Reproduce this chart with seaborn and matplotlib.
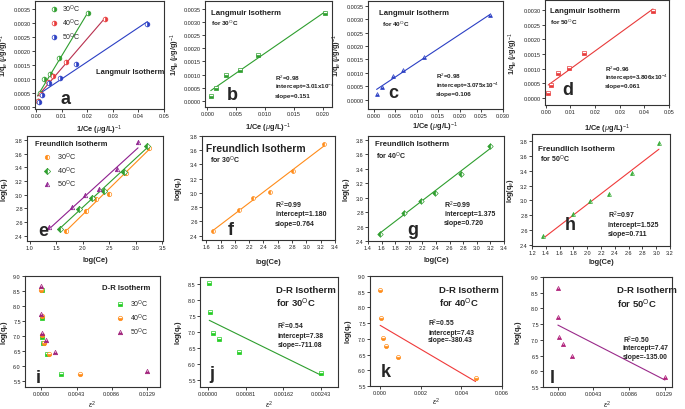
import numpy as np
import pandas as pd
import seaborn as sns
import matplotlib.pyplot as plt

sns.set_theme(style="ticks")
plt.rcParams['font.family'] = ['Liberation Sans', 'DejaVu Sans']
plt.rcParams['mathtext.fontset'] = 'custom'
plt.rcParams['mathtext.rm'] = 'Liberation Sans'
plt.rcParams['mathtext.bf'] = 'Liberation Sans:bold'
plt.rcParams['mathtext.it'] = 'Liberation Sans:italic'

# ---- Langmuir data (1/Ce vs 1/qe) ----
lang_x_30 = [0.0006, 0.0015, 0.0032, 0.0056, 0.0088, 0.0204]
lang_y_30 = [0.00020, 0.00050, 0.00098, 0.00118, 0.00173, 0.00333]
lang_x_40 = [0.0007, 0.0019, 0.0045, 0.0068, 0.0118, 0.0271]
lang_y_40 = [0.00020, 0.00046, 0.00088, 0.00110, 0.00160, 0.00314]
lang_x_50 = [0.0010, 0.0022, 0.0049, 0.0094, 0.0157, 0.0435]
lang_y_50 = [0.00017, 0.00043, 0.00084, 0.00103, 0.00153, 0.00295]
lang_r2 = ["0.98", "0.98", "0.96"]
lang_icpt = [3.01e-4, 3.075e-4, 3.806e-4]
lang_icpt_txt = ["3.01", "3.075", "3.806"]
lang_slope = [0.151, 0.106, 0.061]

# ---- Freundlich data (log Ce vs log qe) ----
freu_x_30 = [1.69, 2.06, 2.25, 2.49, 2.81, 3.24]
freu_y_30 = [2.47, 2.76, 2.93, 3.01, 3.31, 3.69]
freu_x_40 = [1.57, 1.93, 2.18, 2.39, 2.77, 3.20]
freu_y_40 = [2.50, 2.79, 2.95, 3.06, 3.33, 3.71]
freu_x_50 = [1.36, 1.80, 2.04, 2.31, 2.65, 3.04]
freu_y_50 = [2.53, 2.82, 2.99, 3.08, 3.37, 3.77]
freu_r2 = ["0.99", "0.99", "0.97"]
freu_icpt = [1.180, 1.375, 1.525]
freu_slope = [0.764, 0.720, 0.711]

# ---- D-R data (eps^2 vs log qe) ----
dr_x_30 = [0.00002, 0.00004, 0.00010, 0.00022, 0.00067, 0.00243]
dr_y_30 = [8.52, 7.61, 6.96, 6.77, 6.39, 5.72]
dr_x_40 = [0.00000, 0.00005, 0.00012, 0.00030, 0.00089, 0.00470]
dr_y_40 = [8.55, 7.66, 7.02, 6.78, 6.41, 5.74]
dr_x_50 = [0.00000, 0.00000, 0.00012, 0.00060, 0.00170, 0.01294]
dr_y_50 = [8.66, 7.74, 7.10, 6.87, 6.48, 5.82]
dr_r2 = ["0.54", "0.55", "0.50"]
dr_icpt = [7.38, 7.43, 7.47]
dr_slope = [-711.08, -380.43, -135.00]

temps = ["30", "40", "50"]

W, H = 685, 410
fig = plt.figure(figsize=(W / 100, H / 100), dpi=100)


def box(x0, y0, x1, y1):
    return fig.add_axes([x0 / W, 1 - y1 / H, (x1 - x0) / W, (y1 - y0) / H])


def style(ax, xlim, ylim, xticks, yticks, xfmt, yfmt, xlabel, ylabel, xl_y, yl_x):
    ax.set_xlim(*xlim)
    ax.set_ylim(*ylim)
    ax.set_xticks(xticks)
    ax.set_yticks(yticks)
    ax.set_xticklabels([xfmt % v for v in xticks])
    ax.set_yticklabels([yfmt % v for v in yticks])
    ax.tick_params(labelsize=4.0, length=2, width=0.6, pad=1.0, colors='#222222')
    for s in ax.spines.values():
        s.set_linewidth(0.8)
        s.set_color('#333333')
        s.set_visible(True)
    ax.set_xlabel(xlabel, fontsize=5.4, fontweight='bold')
    ax.set_ylabel(ylabel, fontsize=5.2, fontweight='bold')
    # label centres given in figure pixels
    bb = ax.get_position()
    ax.xaxis.set_label_coords(bb.x0 + bb.width / 2, 1 - (xl_y - 3.5) / H,
                              transform=fig.transFigure)
    ax.yaxis.set_label_coords((yl_x + 3.5) / W, bb.y0 + bb.height / 2,
                              transform=fig.transFigure)


def dots(ax, x, y, color, marker, label=None, ms=3.2, fill='right'):
    sns.lineplot(x=x, y=y, ax=ax, color=color, marker=marker, linestyle='none',
                 markersize=ms, fillstyle=fill, markerfacecoloralt='white',
                 markeredgewidth=0.5, markeredgecolor=color,
                 estimator=None, sort=False, label=label)


def fit(ax, x, icpt, slope, color):
    xs = np.array([min(x), max(x)])
    sns.lineplot(x=xs, y=icpt + slope * xs, ax=ax, color=color, linewidth=0.8,
                 estimator=None)


def letter(ax, s, fx, fy):
    ax.text(fx, fy, s, transform=ax.transAxes, fontsize=13, fontweight='bold',
            va='center', ha='left')


def stats(ax, fx, fys, r2, icpt, slope, size=5.0):
    lines = [f"R$^2$={r2}", f"intercept={icpt}", f"slope={slope}"]
    for fy, t in zip(fys, lines):
        ax.text(fx, fy, t, transform=ax.transAxes, fontsize=size,
                fontweight='bold', va='center', ha='left', color='#222222')


def head(ax, title, sub, fx, fy, fy2, size, subsize, subx=None):
    ax.text(fx, fy, title, transform=ax.transAxes, fontsize=size,
            fontweight='bold', va='center', ha='left', color='#222222')
    ax.text(fx if subx is None else subx, fy2, sub, transform=ax.transAxes,
            fontsize=subsize, fontweight='bold', va='center', ha='left',
            color='#222222')


def deg(t):
    return f"{t}$^{{\\rm O}}$C"


lang_lbl_x = r'1/Ce ($\mu$g/L)$^{-1}$'
lang_lbl_y = r'1/q$_e$ ($\mu$g/g)$^{-1}$'
log_lbl_y = r'log(q$_e$)'

# ================= Row 1: Langmuir =================
green, red, blue = '#2e9e2e', '#e83a3a', '#2b3fc4'

ax = box(35, 2, 164, 110)
lang_cols = [green, '#b8304e', blue]
lang_pts = [(lang_x_30, lang_y_30), (lang_x_40, lang_y_40), (lang_x_50, lang_y_50)]
for (xs, ys), c, ic, sl in zip(lang_pts, lang_cols, lang_icpt, lang_slope):
    fit(ax, xs, ic, sl, c)
for (xs, ys), t, pc in zip(lang_pts, temps, [green, red, blue]):
    dots(ax, xs, ys, pc, 'o', label=deg(t), ms=3.4)
style(ax, (-0.0004, 0.05), (-0.00008, 0.00377), np.arange(0, 0.051, 0.01),
      np.arange(0, 0.0036, 0.0005), '%.2f', '%.4f', lang_lbl_x, lang_lbl_y, 127, 7.5)
ax.legend(loc='upper left', bbox_to_anchor=(0.06, 1.02), frameon=False, fontsize=5.0,
          handletextpad=0.2, labelspacing=0.35, borderaxespad=0.2, markerscale=1.0)
ax.text(0.47, 0.35, 'Langmuir Isotherm', transform=ax.transAxes, fontsize=5.4,
        fontweight='bold', va='center', color='#222222')
letter(ax, 'a', 0.2, 0.1)

panels_l = [
    ((205, 2, 332, 108), lang_x_30, lang_y_30, green, green, 's',
     (-0.0004, 0.0216), (-0.00023, 0.00379), np.arange(0, 0.0201, 0.005),
     np.arange(0, 0.0036, 0.0005), '%.3f', 'b', (0.17, 0.12),
     (0.05, 0.89, 0.8, None), (0.55, [0.28, 0.2, 0.11]), (125, 178)),
    ((368, 2, 503, 110), lang_x_40, lang_y_40, blue, blue, '^',
     (-0.0013, 0.0301), (-0.00035, 0.00368), np.arange(0, 0.0301, 0.005),
     np.arange(0, 0.0036, 0.0005), '%.3f', 'c', (0.15, 0.15),
     (0.08, 0.89, 0.79, 0.1), (0.5, [0.31, 0.22, 0.14]), (124, 341)),
    ((545, 1, 669, 106), lang_x_50, lang_y_50, red, red, 's',
     (-0.0003, 0.05), (-0.00024, 0.00334), np.arange(0, 0.051, 0.01),
     np.arange(0, 0.0031, 0.0005), '%.2f', 'd', (0.14, 0.15),
     (0.04, 0.9, 0.8, None), (0.48, [0.35, 0.27, 0.19]), (126, 516)),
]
for i, (pos, xs, ys, lc, pc, mk, xl, yl, xt, yt, xf, let, lp, hd, st, lcs) in enumerate(panels_l):
    ax = box(*pos)
    fit(ax, xs, lang_icpt[i], lang_slope[i], lc)
    dots(ax, xs, ys, pc, mk, ms=2.8, fill='bottom')
    style(ax, xl, yl, xt, yt, xf, '%.4f', lang_lbl_x, lang_lbl_y, *lcs)
    head(ax, 'Langmuir Isotherm', 'for ' + deg(temps[i]), hd[0], hd[1], hd[2], 5.6, 4.6,
         subx=hd[3])
    stats(ax, st[0], st[1], lang_r2[i], f"{lang_icpt_txt[i]}x10$^{{-4}}$", lang_slope[i], 4.5)
    letter(ax, let, *lp)

# ================= Row 2: Freundlich =================
orange, fgreen, purple = '#ff8c1a', '#2e9e2e', '#8e1f8e'
ax = box(27, 137, 163, 242)
freu_pts = [(freu_x_30, freu_y_30), (freu_x_40, freu_y_40), (freu_x_50, freu_y_50)]
freu_cols = [orange, fgreen, purple]
freu_mk = ['o', 'D', '^']
for (xs, ys), c, ic, sl in zip(freu_pts, freu_cols, freu_icpt, freu_slope):
    fit(ax, xs, ic, sl, c)
for (xs, ys), c, t, m in zip(freu_pts, freu_cols, temps, freu_mk):
    dots(ax, xs, ys, c, m, label=deg(t), ms=3.2, fill='left')
style(ax, (0.95, 3.51), (2.32, 3.86), np.arange(1.0, 3.51, 0.5),
      np.arange(2.4, 3.81, 0.2), '%.1f', '%.1f', 'log(Ce)', log_lbl_y, 261, 6.5)
ax.text(0.06, 0.93, 'Freundlich Isotherm', transform=ax.transAxes, fontsize=5.4,
        fontweight='bold', va='center', color='#222222')
ax.legend(loc='upper left', bbox_to_anchor=(0.06, 0.9), frameon=False, fontsize=5.2,
          handletextpad=0.4, labelspacing=0.3, borderaxespad=0.2)
letter(ax, 'e', 0.08, 0.1)

panels_f = [
    ((202, 137, 335, 241), freu_x_30, freu_y_30, orange, orange, 'o',
     (1.54, 3.4), (2.34, 3.78), np.arange(1.6, 3.41, 0.2), 'f', (0.19, 0.1),
     (0.03, 0.88, 0.78, 0.06, 7.4), (0.55, [0.34, 0.25, 0.16]), (262, 180)),
    ((368, 137, 504, 242), freu_x_40, freu_y_40, fgreen, fgreen, 'D',
     (1.4, 3.4), (2.4, 3.85), np.arange(1.4, 3.41, 0.2), 'g', (0.29, 0.11),
     (0.05, 0.93, 0.82, 0.06, 5.6), (0.56, [0.35, 0.26, 0.18]), (261, 348)),
    ((532, 135, 670, 247), freu_x_50, freu_y_50, '#f03a3a', '#2ea82e', '^',
     (1.2, 3.2), (2.39, 3.89), np.arange(1.2, 3.21, 0.2), 'h', (0.24, 0.19),
     (0.04, 0.87, 0.78, 0.06, 5.8), (0.55, [0.28, 0.19, 0.11]), (262, 513)),
]
for i, (pos, xs, ys, lc, pc, mk, xl, yl, xt, let, lp, hd, st, lcs) in enumerate(panels_f):
    ax = box(*pos)
    fit(ax, xs, freu_icpt[i], freu_slope[i], lc)
    dots(ax, xs, ys, pc, mk, ms=2.8, fill='left')
    style(ax, xl, yl, xt, np.arange(2.4, 3.81, 0.2), '%.1f', '%.1f', 'log(Ce)', log_lbl_y, *lcs)
    head(ax, 'Freundlich Isotherm', 'for ' + deg(temps[i]), hd[0], hd[1], hd[2], hd[4], 5.0,
         subx=hd[3])
    stats(ax, st[0], st[1], freu_r2[i], f"{freu_icpt[i]:.3f}", f"{freu_slope[i]:.3f}", 5.0)
    letter(ax, let, *lp)

# ================= Row 3: D-R =================
sq_green, dr_orange, dr_purple = '#22cc22', '#ff8c1a', '#a0207a'
eps_lbl = r'$\varepsilon^2$'
ax = box(25, 277, 160, 388)
dr_pts = [(dr_x_30, dr_y_30), (dr_x_40, dr_y_40), (dr_x_50, dr_y_50)]
for (xs, ys), c, t, m in zip(dr_pts, [sq_green, dr_orange, dr_purple], temps, ['s', 'o', '^']):
    dots(ax, xs, ys, c, m, label=deg(t), ms=3.2, fill='bottom')
dr_xt = np.array([0.0, 0.0043, 0.0086, 0.0129])
style(ax, (-0.002, 0.0145), (5.3, 9.0), dr_xt, np.arange(5.5, 9.01, 0.5),
      '%.4f', '%.1f', eps_lbl, log_lbl_y, 403, 7)
ax.text(0.57, 0.9, 'D-R Isotherm', transform=ax.transAxes, fontsize=5.6,
        fontweight='bold', va='center', color='#222222')
ax.legend(loc='upper left', bbox_to_anchor=(0.62, 0.84), frameon=False, fontsize=5.0,
          handletextpad=0.4, labelspacing=0.35, borderaxespad=0.2)
letter(ax, 'i', 0.08, 0.09)

panels_d = [
    ((200, 278, 338, 388), dr_x_30, dr_y_30, '#2e9e2e', sq_green, 's',
     (-0.00018, 0.0028), (5.28, 8.72), np.array([0.0, 0.00081, 0.00162, 0.00243]), '%.5f',
     np.arange(5.5, 8.51, 0.5), 'j', (0.07, 0.12), (0.55, 0.89, 0.77),
     (0.56, [0.56, 0.47, 0.39]), (403, 180)),
    ((370, 277, 502, 387), dr_x_40, dr_y_40, '#f03a3a', dr_orange, 'o',
     (-0.0005, 0.006), (5.5, 9.0), np.array([0.0, 0.002, 0.004, 0.006]), '%.3f',
     np.arange(5.5, 9.01, 0.5), 'k', (0.08, 0.13), (0.52, 0.88, 0.76),
     (0.44, [0.58, 0.49, 0.42]), (400, 350)),
    ((543, 278, 672, 388), dr_x_50, dr_y_50, '#9a2a8a', '#b0207a', '^',
     (-0.0018, 0.0138), (5.5, 9.0), dr_xt, '%.4f',
     np.arange(5.5, 9.01, 0.5), 'l', (0.05, 0.09), (0.57, 0.89, 0.76),
     (0.62, [0.43, 0.36, 0.28]), (403, 521)),
]
for i, (pos, xs, ys, lc, pc, mk, xl, yl, xt, xf, yt, let, lp, hd, st, lcs) in enumerate(panels_d):
    ax = box(*pos)
    fit(ax, xs, dr_icpt[i], dr_slope[i], lc)
    dots(ax, xs, ys, pc, mk, ms=3.0, fill='bottom')
    style(ax, xl, yl, xt, yt, xf, '%.1f', eps_lbl, log_lbl_y, *lcs)
    head(ax, 'D-R Isotherm', 'for ' + deg(temps[i]), hd[0], hd[1], hd[2], 6.8, 6.8)
    stats(ax, st[0], st[1], dr_r2[i], f"{dr_icpt[i]:.2f}", f"{dr_slope[i]:.2f}", 4.9)
    letter(ax, let, *lp)

fig.savefig('out.png', dpi=100)
